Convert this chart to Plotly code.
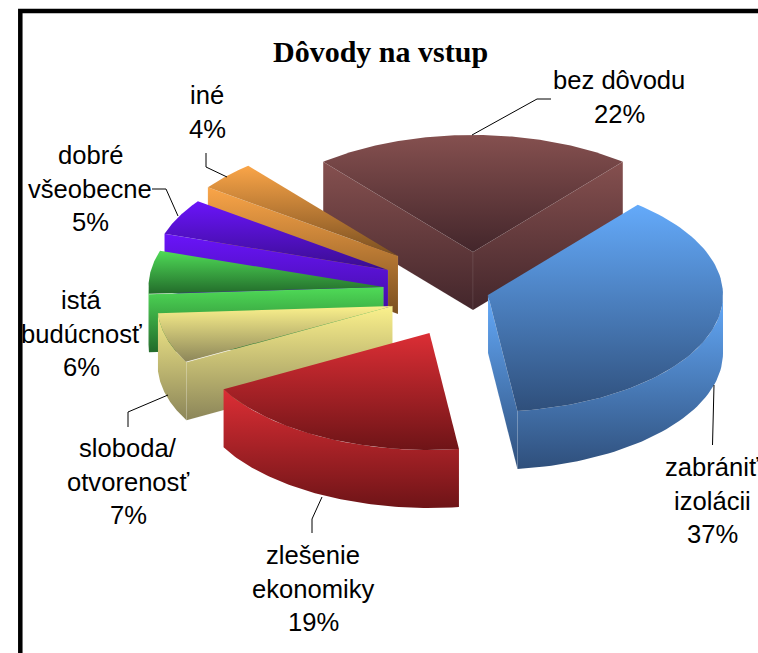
import numpy as np
import plotly.graph_objects as go

# ---- data ----
categories = ["bez dôvodu", "zabrániť izolácii", "zlešenie ekonomiky", "sloboda/ otvorenosť",
              "istá budúcnosť", "dobré všeobecne", "iné"]
values = [22, 37, 19, 7, 6, 5, 4]
title_text = "Dôvody na vstup"

# ---- styling / layout ----
W, H = 758, 653
RX, RY, DEPTH = 235, 117, 58
apex = [(473, 252), (488, 295), (429.5, 333), (392.5, 306), (383.5, 287), (388, 270), (398, 256)]
light = ["#85504f", "#64aafa", "#dc2e35", "#fbf18c", "#4fdb57", "#6a14fa", "#faa548"]
dark = ["#43262b", "#2f4f7b", "#6e1417", "#8b8559", "#226a2a", "#3a0d90", "#7a4f20"]
draw_order = [0, 6, 5, 4, 3, 2, 1]
label_lines = [
    (["bez dôvodu", "22%"], 619, 80),
    (["zabrániť", "izolácii", "37%"], 712, 467),
    (["zlešenie", "ekonomiky", "19%"], 313, 555),
    (["sloboda/", "otvorenosť", "7%"], 128, 448),
    (["istá", "budúcnosť", "6%"], 81, 300),
    (["dobré", "všeobecne", "5%"], 90, 155),
    (["iné", "4%"], 207, 95),
]
LINE_STEP = 33.7
leaders = [
    ([472, 537, 551], [135, 99, 99]),
    ([714, 712.5], [385, 445]),
    ([322, 312, 312], [497, 519, 533]),
    ([168, 128, 128], [395, 412, 427]),
    ([178, 166, 152], [216, 189, 189]),
    ([227, 206, 206], [177, 167, 153]),
]

fig = go.Figure()


def poly(xs, ys, top, bottom, c0, c1, edge=None):
    fig.add_trace(go.Scatter(
        x=list(xs) + [xs[0]], y=list(ys) + [ys[0]], mode="lines", fill="toself",
        line=dict(width=0.6 if edge else 0, color=edge or "rgba(0,0,0,0)"),
        fillgradient=dict(type="vertical", colorscale=[[0, c0], [1, c1]], start=top, stop=bottom),
        hoverinfo="skip", showlegend=False))


# slice angles, clockwise from the top, derived from the values
total = sum(values)
spans = [v / total * 360 for v in values]
starts = np.cumsum([-spans[0] / 2] + spans[:-1])


def pt(i, deg):
    t = np.radians(deg)
    return apex[i][0] + RX * np.sin(t), apex[i][1] - RY * np.cos(t)


for i in draw_order:
    a, b = starts[i], starts[i] + spans[i]
    ang = np.linspace(a, b, 80)
    ax, ay = pt(i, ang)
    ax0, ay0 = apex[i]
    faces = []
    if np.sin(np.radians(a)) < 0:
        ex, ey = pt(i, a)
        faces.append(([ax0, ex, ex, ax0], [ay0, ey, ey + DEPTH, ay0 + DEPTH]))
    if np.sin(np.radians(b)) > 0:
        ex, ey = pt(i, b)
        faces.append(([ax0, ex, ex, ax0], [ay0, ey, ey + DEPTH, ay0 + DEPTH]))
    front = np.cos(np.radians(ang)) <= 0
    band = None
    if front.sum() > 1:
        fx, fy = ax[front], ay[front]
        band = (list(fx) + list(fx[::-1]), list(fy) + list((fy + DEPTH)[::-1]))
    ys_all = [y for f in faces for y in f[1]] + (band[1] if band else [])
    s0, s1 = min(ys_all), max(ys_all)
    if band:
        poly(band[0], band[1], s0, s1, light[i], dark[i])
    for f in faces:
        poly(f[0], f[1], s0, s1, light[i], dark[i], edge="rgba(255,255,255,0.12)")
    # top face
    poly([ax0] + list(ax), [ay0] + list(ay), min(ay0, ay.min()), max(ay0, ay.max()), light[i], dark[i])

for lx, ly in leaders:
    fig.add_trace(go.Scatter(x=lx, y=ly, mode="lines", line=dict(color="black", width=1),
                             hoverinfo="skip", showlegend=False))

for lines, cx, cy in label_lines:
    for k, txt in enumerate(lines):
        fig.add_annotation(x=cx, y=cy + k * LINE_STEP, text=txt, showarrow=False,
                           xanchor="center", yanchor="middle",
                           font=dict(family="Liberation Sans", size=25.6, color="black"))

fig.add_annotation(x=380, y=51, text=f"<b>{title_text}</b>", showarrow=False,
                   xanchor="center", yanchor="middle",
                   font=dict(family="Liberation Serif", size=30, color="black"))

fig.add_shape(type="rect", x0=20.3, y0=11, x1=W + 40, y1=H + 40,
              line=dict(color="black", width=4.5), fillcolor="rgba(0,0,0,0)", layer="below")

fig.update_xaxes(range=[0, W], visible=False, fixedrange=True)
fig.update_yaxes(range=[H, 0], visible=False, fixedrange=True)
fig.update_layout(width=W, height=H, margin=dict(l=0, r=0, t=0, b=0),
                  paper_bgcolor="white", plot_bgcolor="white", showlegend=False)
fig.write_html("out.html", config={"displayModeBar": False},
               post_script="document.body.style.margin='0';document.body.style.overflow='hidden';")
